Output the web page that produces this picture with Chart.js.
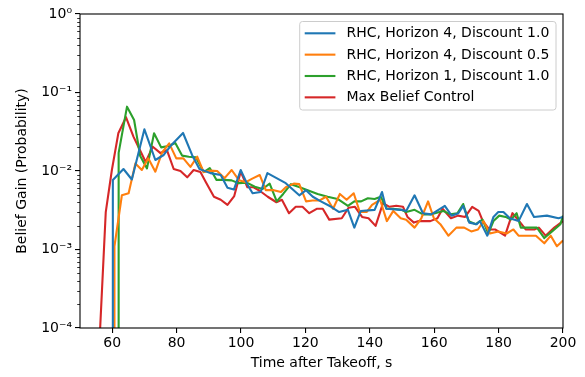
<!DOCTYPE html>
<html>
<head>
<meta charset="utf-8">
<script src="https://cdn.jsdelivr.net/npm/chart.js@4/dist/chart.umd.min.js"></script>
<style>
  html, body { margin: 0; padding: 0; background: #fff; }
  canvas { display: block; }
</style>
</head>
<body>
<canvas id="chart" width="585" height="377"></canvas>
<script>
// time after takeoff (s) and belief gain for each run
// 1e-30 stands for a zero gain (log plot clips it to the bottom)
const rhcH4D10Time = [60.1, 60.2, 63.5, 66.1, 70.0, 73.4, 76.0, 78.1, 82.0, 84.8, 87.1, 90.5, 93.7, 95.8, 97.8, 99.9, 102.1, 103.6, 106.1, 108.2, 113.9, 118.1, 120.2, 122.3, 124.8, 128.0, 130.5, 133.2, 135.2, 137.2, 141.5, 143.8, 145.1, 149.8, 151.3, 153.9, 156.5, 159.1, 163.3, 165.4, 167.5, 169.0, 170.9, 173.2, 174.2, 176.5, 178.4, 179.9, 181.5, 183.5, 186.2, 188.8, 191.0, 195.0, 198.6, 200];
const rhcH4D10Gain = [1e-30, 0.0077, 0.0106, 0.0078, 0.034, 0.0138, 0.016, 0.0208, 0.0305, 0.016, 0.0106, 0.0094, 0.0089, 0.0061, 0.0058, 0.0103, 0.0066, 0.0052, 0.0054, 0.0094, 0.0070, 0.0049, 0.0057, 0.0047, 0.0041, 0.0035, 0.0030, 0.0032, 0.0019, 0.0031, 0.0032, 0.0054, 0.0033, 0.0032, 0.0031, 0.0049, 0.0029, 0.0028, 0.0036, 0.0027, 0.0029, 0.0036, 0.0022, 0.0021, 0.0023, 0.0015, 0.0026, 0.0030, 0.0030, 0.0025, 0.0023, 0.0038, 0.0026, 0.0027, 0.0025, 0.0026];

const rhcH4D05Time = [60.7, 60.7, 63.0, 65.1, 67.2, 69.2, 71.2, 73.4, 75.5, 77.7, 79.9, 82.1, 84.3, 86.4, 88.4, 90.5, 92.6, 94.9, 97.1, 99.4, 101.5, 103.5, 105.8, 107.7, 110.2, 112.4, 113.9, 116.4, 118.1, 120.2, 122.2, 124.3, 126.4, 128.6, 130.7, 132.8, 135.0, 136.9, 139.0, 140.7, 143.2, 145.3, 147.3, 149.6, 151.3, 153.9, 156.0, 158.1, 159.9, 161.9, 164.4, 166.9, 169.3, 171.5, 173.6, 175.3, 177.3, 179.9, 182.5, 184.6, 186.2, 188.8, 191.6, 194.2, 196.2, 198.1, 200];
const rhcH4D05Gain = [1e-30, 0.0011, 0.0049, 0.0052, 0.0125, 0.0103, 0.0145, 0.0098, 0.0172, 0.0225, 0.0145, 0.0145, 0.0113, 0.0152, 0.0097, 0.0101, 0.0100, 0.0081, 0.0103, 0.0076, 0.0072, 0.0080, 0.0089, 0.0057, 0.0057, 0.0054, 0.0062, 0.0069, 0.0068, 0.0041, 0.0042, 0.0042, 0.0047, 0.0033, 0.0051, 0.0043, 0.0052, 0.0030, 0.0030, 0.0037, 0.0043, 0.0023, 0.0031, 0.0025, 0.0024, 0.0019, 0.0025, 0.0041, 0.0025, 0.0021, 0.0015, 0.0019, 0.0019, 0.0017, 0.0018, 0.0023, 0.0016, 0.0017, 0.0016, 0.0018, 0.0015, 0.0015, 0.0015, 0.0012, 0.0015, 0.0011, 0.0013];

const rhcH1D10Time = [62.0, 62.0, 64.6, 66.8, 68.7, 70.8, 73.0, 75.2, 77.5, 79.6, 81.7, 83.8, 86.0, 88.4, 90.3, 92.4, 94.7, 97.1, 99.3, 101.8, 104.3, 106.7, 108.9, 111.1, 113.1, 115.5, 117.8, 120.7, 123.8, 126.9, 130.0, 133.2, 135.2, 137.3, 139.4, 141.5, 143.4, 145.3, 147.3, 149.8, 151.3, 153.9, 156.5, 158.8, 162.8, 165.0, 167.2, 169.0, 170.7, 172.9, 175.0, 176.8, 178.4, 180.2, 182.2, 183.8, 185.6, 186.9, 189.8, 191.9, 194.2, 196.6, 199.2, 200];
const rhcH1D10Gain = [1e-30, 0.017, 0.066, 0.0446, 0.0155, 0.0108, 0.0302, 0.020, 0.0208, 0.0227, 0.0157, 0.0152, 0.0149, 0.0097, 0.0109, 0.0077, 0.0077, 0.0076, 0.0070, 0.0071, 0.0063, 0.0059, 0.0069, 0.0041, 0.0051, 0.0068, 0.0063, 0.0057, 0.0051, 0.0047, 0.0044, 0.0036, 0.0041, 0.0041, 0.0045, 0.0044, 0.0047, 0.0033, 0.0033, 0.0032, 0.0030, 0.0032, 0.0028, 0.0028, 0.0031, 0.0028, 0.0029, 0.0038, 0.0023, 0.0021, 0.0024, 0.0016, 0.0023, 0.0027, 0.0026, 0.0024, 0.0029, 0.0019, 0.0019, 0.0019, 0.0014, 0.0017, 0.0021, 0.0027];

const maxBeliefTime = [56.0, 58.0, 59.9, 61.9, 64.3, 66.6, 68.6, 70.4, 72.6, 74.9, 77.0, 79.1, 81.2, 83.3, 85.3, 87.4, 89.1, 91.6, 93.7, 95.8, 97.9, 99.9, 102.0, 103.9, 105.8, 108.3, 111.0, 112.7, 114.9, 117.0, 119.1, 121.2, 123.5, 125.4, 127.4, 131.3, 133.4, 135.4, 137.6, 139.6, 141.8, 144.1, 146.1, 148.2, 150.3, 151.7, 153.7, 155.2, 157.0, 158.8, 161.0, 162.6, 165.2, 167.4, 169.6, 171.8, 173.8, 175.1, 177.1, 178.9, 182.0, 184.3, 186.4, 188.4, 191.1, 192.5, 194.6, 197.3, 200];
const maxBeliefGain = [6e-5, 0.0030, 0.0103, 0.0302, 0.0483, 0.0274, 0.0185, 0.0130, 0.0204, 0.0170, 0.0184, 0.0106, 0.0100, 0.0083, 0.0103, 0.0097, 0.0072, 0.0047, 0.0043, 0.0037, 0.0048, 0.0098, 0.0062, 0.0062, 0.0056, 0.0047, 0.0040, 0.0043, 0.0029, 0.0035, 0.0035, 0.0029, 0.0033, 0.0033, 0.0024, 0.0025, 0.0034, 0.0035, 0.0026, 0.0025, 0.0020, 0.0039, 0.0035, 0.0036, 0.0035, 0.0026, 0.0022, 0.0023, 0.0023, 0.0023, 0.0025, 0.0033, 0.0025, 0.0027, 0.0026, 0.0035, 0.0031, 0.0023, 0.0018, 0.0018, 0.0015, 0.0029, 0.0023, 0.0018, 0.0018, 0.0019, 0.0015, 0.0019, 0.0023];

const seriesLabels = ["RHC, Horizon 4, Discount 1.0", "RHC, Horizon 4, Discount 0.5", "RHC, Horizon 1, Discount 1.0", "Max Belief Control"];
const seriesColors = ["#1f77b4", "#ff7f0e", "#2ca02c", "#d62728"];

const xTicks = [60, 80, 100, 120, 140, 160, 180, 200];
const yTicks = [1e-4, 1e-3, 1e-2, 1e-1, 1];
const yTickLabels = ["10\u207B\u2074", "10\u207B\u00B3", "10\u207B\u00B2", "10\u207B\u00B9", "10\u2070"];

const FONT = "'DejaVu Sans', sans-serif";
const FS = 14;

function pts(xs, ys){
  return xs.map((x, i) => ({x: x, y: ys[i]}));
}

const runs = [
  pts(rhcH4D10Time, rhcH4D10Gain),
  pts(rhcH4D05Time, rhcH4D05Gain),
  pts(rhcH1D10Time, rhcH1D10Gain),
  pts(maxBeliefTime, maxBeliefGain)
];

/* frame, minor log ticks and legend box like matplotlib */
const decor = {
  id: "decor",
  afterDatasetsDraw(chart){
    const ctx = chart.ctx;
    const a = chart.chartArea;
    const ys = chart.scales.y;
    ctx.save();

    // minor ticks on log axis
    ctx.strokeStyle = "#000";
    ctx.lineWidth = 0.8;
    for(let e = -4; e < 0; e++){
      for(let m = 2; m <= 9; m++){
        const py = Math.round(ys.getPixelForValue(m * Math.pow(10, e))) + 0.5;
        ctx.beginPath();
        ctx.moveTo(a.left - 2.8, py);
        ctx.lineTo(a.left, py);
        ctx.stroke();
      }
    }

    // spines
    ctx.lineWidth = 1.1;
    ctx.strokeRect(a.left, a.top, a.right - a.left, a.bottom - a.top);

    // legend
    ctx.font = FS + "px " + FONT;
    let tw = 0;
    seriesLabels.forEach(l => { tw = Math.max(tw, ctx.measureText(l).width); });
    const w = 5 + 30.7 + 11 + tw + 6.7;
    const h = 88.5;
    const bx = a.right - 7 - w;
    const by = a.top + 7.5;
    const r = 2.8;
    ctx.beginPath();
    ctx.moveTo(bx + r, by);
    ctx.arcTo(bx + w, by, bx + w, by + h, r);
    ctx.arcTo(bx + w, by + h, bx, by + h, r);
    ctx.arcTo(bx, by + h, bx, by, r);
    ctx.arcTo(bx, by, bx + w, by, r);
    ctx.closePath();
    ctx.fillStyle = "rgba(255,255,255,0.8)";
    ctx.fill();
    ctx.strokeStyle = "#cccccc";
    ctx.lineWidth = 1;
    ctx.stroke();

    ctx.textBaseline = "middle";
    ctx.fillStyle = "#000";
    seriesLabels.forEach((l, i) => {
      const ly = by + 11.8 + i * 21.35;
      ctx.strokeStyle = seriesColors[i];
      ctx.lineWidth = 2.1;
      ctx.beginPath();
      ctx.moveTo(bx + 5, ly);
      ctx.lineTo(bx + 35.7, ly);
      ctx.stroke();
      ctx.fillText(l, bx + 46.7, ly + 0.5);
    });
    ctx.restore();
  }
};

new Chart(document.getElementById("chart"), {
  type: "line",
  data: {
    datasets: runs.map((d, i) => ({
      label: seriesLabels[i],
      data: d,
      borderColor: seriesColors[i],
      backgroundColor: seriesColors[i],
      borderWidth: 2.1,
      borderJoinStyle: "round",
      pointRadius: 0,
      tension: 0,
      fill: false,
      clip: 0
    }))
  },
  options: {
    responsive: false,
    animation: false,
    devicePixelRatio: 1,
    layout: {padding: {left: 0, right: 22, top: 14, bottom: 0}},
    plugins: {legend: {display: false}, tooltip: {enabled: false}},
    scales: {
      x: {
        type: "linear",
        min: 50,
        max: 200,
        afterBuildTicks: s => { s.ticks = xTicks.map(v => ({value: v})); },
        afterFit: s => { s.height = 49; },
        grid: {display: true, drawOnChartArea: false, drawTicks: true, tickLength: 5, color: "#000", lineWidth: 1.1},
        border: {display: false},
        ticks: {color: "#000", font: {family: FONT, size: FS}, padding: 2, maxRotation: 0},
        title: {display: true, text: "Time after Takeoff, s", color: "#000", font: {family: FONT, size: FS}, padding: {top: 0, bottom: 5}}
      },
      y: {
        type: "logarithmic",
        min: 1e-4,
        max: 1,
        afterBuildTicks: s => { s.ticks = yTicks.map(v => ({value: v})); },
        afterFit: s => { s.width = 80; },
        grid: {display: true, drawOnChartArea: false, drawTicks: true, tickLength: 5, color: "#000", lineWidth: 1.1},
        border: {display: false},
        ticks: {
          color: "#000",
          font: {family: FONT, size: FS},
          padding: 3,
          callback: v => { const i = yTicks.indexOf(v); return i >= 0 ? yTickLabels[i] : ""; }
        },
        title: {display: true, text: "Belief Gain (Probability)", color: "#000", font: {family: FONT, size: FS}, padding: {top: 14, bottom: 0}}
      }
    }
  },
  plugins: [decor]
});
</script>
</body>
</html>
